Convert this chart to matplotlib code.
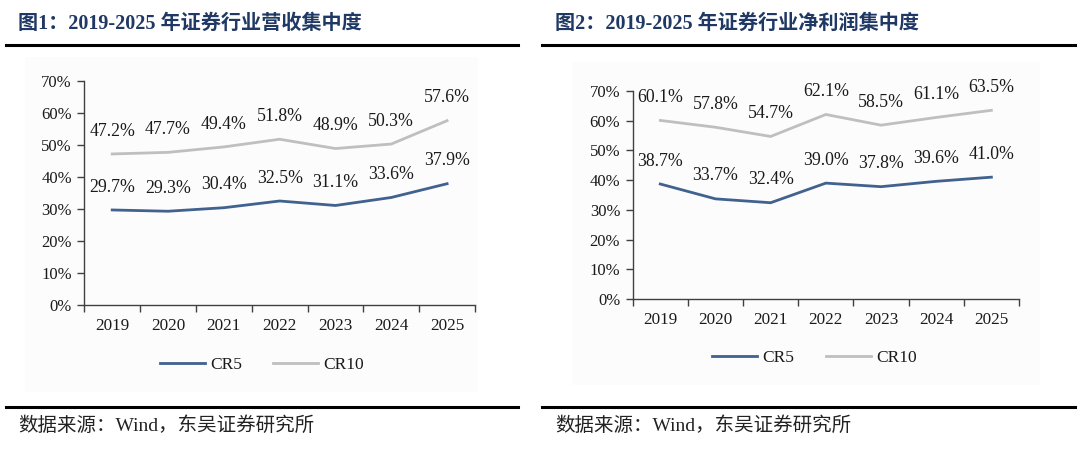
import matplotlib
matplotlib.use("Agg")
import matplotlib.pyplot as plt
from matplotlib.lines import Line2D
from matplotlib.patches import Rectangle

years = ["2019", "2020", "2021", "2022", "2023", "2024", "2025"]
rev_cr5 = [29.7, 29.3, 30.4, 32.5, 31.1, 33.6, 37.9]
rev_cr10 = [47.2, 47.7, 49.4, 51.8, 48.9, 50.3, 57.6]
np_cr5 = [38.7, 33.7, 32.4, 39.0, 37.8, 39.6, 41.0]
np_cr10 = [60.1, 57.8, 54.7, 62.1, 58.5, 61.1, 63.5]
yticks = [0, 10, 20, 30, 40, 50, 60, 70]
series_names = ["CR5", "CR10"]
titles = ["图1：2019-2025 年证券行业营收集中度", "图2：2019-2025 年证券行业净利润集中度"]
source = "数据来源：Wind，东吴证券研究所"

W, H = 1080, 450
fig = plt.figure(figsize=(10.8, 4.5), dpi=100)
fig.patch.set_facecolor("white")

SERIF = ["Liberation Serif", "Noto Sans CJK SC"]
TITLE_C = "#1F3864"
C_CR5 = "#41618F"
C_CR10 = "#BFBFBF"
AX_C = "#404040"


def hline(x0, x1, y, lw=2.2):
    fig.add_artist(Line2D([x0 / W, x1 / W], [1 - y / H, 1 - y / H],
                          transform=fig.transFigure, color="black", lw=lw))


panels = [
    dict(data=(rev_cr5, rev_cr10), title=titles[0], x0=6, x1=518, tx=18, sx=18,
         ax=(84.3, 475, 305, 81), box=(25, 57, 478, 392), leg=(0.455, -0.267)),
    dict(data=(np_cr5, np_cr10), title=titles[1], x0=542, x1=1075, tx=555, sx=555,
         ax=(632.7, 1019, 299, 91), box=(572, 62, 1040, 385), leg=(0.47, -0.282)),
]

for p in panels:
    # title and rules
    fig.text(p["tx"] / W, 1 - 24 / H, p["title"], family=SERIF, fontweight="bold",
             fontsize=14.5, color=TITLE_C, va="center", ha="left")
    hline(p["x0"], p["x1"], 45)
    hline(p["x0"], p["x1"], 407)
    fig.text(p["sx"] / W, 1 - 426 / H, source, family=SERIF, fontsize=14,
             color="#222222", va="center", ha="left")
    # faint background box
    bx0, by0, bx1, by1 = p["box"]
    fig.add_artist(Rectangle((bx0 / W, 1 - by1 / H), (bx1 - bx0) / W, (by1 - by0) / H,
                             transform=fig.transFigure, facecolor="#FCFCFC",
                             edgecolor="none", zorder=-5))

    l, r, b, t = p["ax"]
    ax = fig.add_axes([l / W, 1 - b / H, (r - l) / W, (b - t) / H])
    ax.set_facecolor("none")
    xs = list(range(len(years)))
    cr5, cr10 = p["data"]
    ax.plot(xs, cr5, color=C_CR5, lw=2.0, label=series_names[0], solid_joinstyle="miter")
    ax.plot(xs, cr10, color=C_CR10, lw=2.0, label=series_names[1], solid_joinstyle="miter")
    for vals in (cr5, cr10):
        for x, v in zip(xs, vals):
            ax.annotate(f"{v:.1f}%", (x, v), xytext=(0, 16.5), textcoords="offset points",
                        ha="center", va="center", family=SERIF, fontsize=12.8,
                        color="#1a1a1a")
    ax.set_xlim(-0.5, len(years) - 0.5)
    ax.set_ylim(0, 70)
    ax.set_yticks(yticks)
    ax.set_yticklabels([f"{v}%" for v in yticks], family=SERIF, fontsize=12, color="#1a1a1a")
    ax.set_xticks([i - 0.5 for i in range(len(years) + 1)])
    ax.set_xticklabels([])
    ax.set_xticks(xs, minor=True)
    ax.set_xticklabels(years, minor=True, family=SERIF, fontsize=12.3, color="#1a1a1a")
    ax.tick_params(axis="x", which="major", direction="out", length=5, width=1, color=AX_C)
    ax.tick_params(axis="x", which="minor", length=0, pad=9)
    ax.tick_params(axis="y", direction="out", length=5, width=1, color=AX_C, pad=4)
    for s in ("top", "right"):
        ax.spines[s].set_visible(False)
    for s in ("left", "bottom"):
        ax.spines[s].set_color(AX_C)
        ax.spines[s].set_linewidth(1)
    leg = ax.legend(loc="center", bbox_to_anchor=p["leg"], ncol=2, frameon=False,
                    prop={"family": SERIF, "size": 12.5}, handlelength=2.6,
                    columnspacing=1.8, handletextpad=0.3)
    for txt in leg.get_texts():
        txt.set_color("#1a1a1a")

fig.savefig("out.png", dpi=100, facecolor="white")
